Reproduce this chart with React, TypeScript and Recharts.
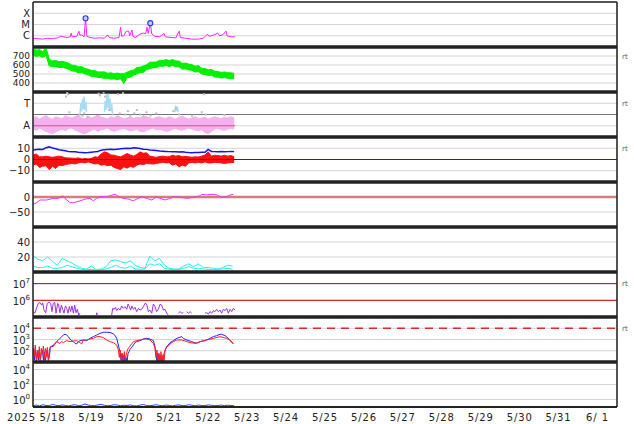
import React from 'react';
import { ComposedChart, Line, Area, XAxis, YAxis, CartesianGrid, ReferenceLine } from 'recharts';

const FONT = '"DejaVu Sans", sans-serif';
const W = 634;
const PH = 45;
const PAD = 2;
const TOP0 = 2;

const X_DOMAIN: [number, number] = [0, 360];
const DAY_TICKS = [0, 24, 48, 72, 96, 120, 144, 168, 192, 216, 240, 264, 288, 312, 336, 360];
const NOON_TICKS = [12, 36, 60, 84, 108, 132, 156, 180, 204, 228, 252, 276, 300, 324, 348];
const DAY_LABELS = ['5/18', '5/19', '5/20', '5/21', '5/22', '5/23', '5/24', '5/25', '5/26', '5/27', '5/28', '5/29', '5/30', '5/31', '6/ 1'];
const YEAR = '2025';
const RT = 'rt';

type Pt = [number, number | null];

// Panel 1: X-ray flux
const XRAY: Pt[] = [
  [0, 6e-7], [3, 5.5e-7], [6, 5e-7], [9, 6e-7], [12, 5.5e-7], [15, 6.5e-7], [17, 9e-7], [19, 8e-7], [21, 7e-7], [23, 8e-7],
  [23.5, 1.7e-6], [24.2, 8e-7], [27, 9e-7], [28.3, 2.5e-6], [28.9, 1.1e-6], [30, 1.2e-6], [31.5, 8e-7], [32.4, 3.6e-5], [33.2, 9e-7], [35, 7e-7],
  [38, 6e-7], [41, 6.5e-7], [44, 6e-7], [46, 1.2e-6], [47, 7e-7], [50, 6e-7], [53, 7e-7], [54, 5.6e-6], [54.6, 9e-7], [56, 1e-6],
  [57.5, 2.5e-6], [59, 2.6e-6], [59.6, 1e-6], [61, 3.2e-6], [61.6, 9e-7], [63, 7e-7], [66, 1.4e-6], [68, 1.7e-6], [69.5, 1.5e-6], [70.3, 5.6e-6],
  [71, 1.6e-6], [72.3, 1.3e-5], [73.2, 1.5e-6], [75, 9e-7], [78, 8e-7], [80.8, 1.6e-6], [81.5, 8e-7], [85, 7e-7], [88, 6.5e-7], [90.2, 2.6e-6],
  [90.8, 7e-7], [94, 6e-7], [98, 5e-7], [102, 5e-7], [105, 6e-7], [107.5, 1.4e-6], [108.5, 9e-7], [111, 1.1e-6], [113.9, 1.7e-6], [115, 1e-6],
  [117, 1.2e-6], [119, 2.6e-6], [119.6, 1e-6], [122, 8e-7], [124.5, 8e-7],
];
const FLARES: Pt[] = [[32.4, 3.6e-5], [72.3, 1.3e-5]];

// Panel 2: solar wind speed band (2 h step)
const SPEED_STEP = 2;
const SPEED_HIGH = [780, 765, 772, 748, 795, 665, 645, 650, 638, 641, 632, 620, 598, 595, 580, 583, 561, 554, 540, 540, 523, 523, 524, 509, 513, 505, 510, 503, 504, 520, 536, 544, 573, 575, 590, 603, 631, 632, 632, 653, 650, 660, 648, 662, 645, 644, 618, 621, 610, 603, 587, 593, 565, 560, 548, 551, 530, 527, 518, 523, 515, 513, 508];
const SPEED_LOW = [710, 695, 702, 684, 705, 590, 583, 584, 572, 575, 565, 552, 534, 530, 512, 517, 500, 490, 470, 472, 461, 460, 450, 454, 443, 445, 436, 447, 395, 460, 464, 487, 501, 515, 517, 547, 560, 570, 569, 587, 586, 595, 582, 594, 580, 580, 554, 557, 547, 540, 522, 527, 500, 495, 484, 487, 466, 465, 455, 460, 452, 450, 446];

// Panel 3: T / A panel
const PINK_STEP = 2;
const PINK_HIGH = [1.7, 1.8, 1.6, 1.75, 1.9, 1.7, 1.6, 1.8, 1.7, 1.65, 1.9, 1.75, 1.7, 1.8, 1.95, 1.7, 1.6, 1.85, 1.7, 1.8, 2.0, 1.75, 1.7, 1.6, 1.8, 1.7, 1.9, 1.75, 1.6, 1.7, 1.8, 1.65, 1.75, 1.7, 1.9, 1.8, 1.7, 1.6, 1.75, 1.8, 1.7, 1.65, 1.8, 1.7, 1.6, 1.75, 1.85, 1.7, 1.6, 1.7, 1.8, 1.65, 1.7, 1.75, 1.6, 1.7, 1.8, 1.7, 1.65, 1.75, 1.7, 1.8, 1.7];
const PINK_LOW = [0.7, 0.6, 0.8, 0.65, 0.5, 0.4, 0.3, 0.45, 0.6, 0.7, 0.55, 0.75, 0.8, 0.6, 0.5, 0.35, 0.3, 0.45, 0.6, 0.7, 0.5, 0.65, 0.7, 0.8, 0.6, 0.5, 0.6, 0.7, 0.75, 0.65, 0.55, 0.6, 0.7, 0.5, 0.45, 0.6, 0.7, 0.8, 0.65, 0.7, 0.6, 0.5, 0.55, 0.7, 0.75, 0.65, 0.6, 0.7, 0.8, 0.7, 0.6, 0.55, 0.65, 0.4, 0.3, 0.5, 0.7, 0.75, 0.65, 0.6, 0.7, 0.75, 0.7];
const A_LEVEL: Pt[] = [[0, 1], [124.5, 1]];
const LIGHT_BLUE: Pt[] = [
  [29.0, 2.1], [29.5, 3.0], [30.0, 2.3], [30.5, 3.4], [31.0, 2.5], [31.5, 3.6], [32.0, 2.4], [32.5, 3.1], [33.0, 2.2], [33.5, null],
  [44.0, 2.2], [44.5, 3.2], [45.0, 2.4], [45.5, 3.8], [46.0, 2.6], [46.5, 3.9], [47.0, 2.5], [47.5, 3.4], [48.0, 2.3], [48.5, 2.9], [49.0, 2.1], [49.5, null],
  [87.5, 2.2], [88.0, 2.8], [88.5, 2.3], [89.0, 2.7], [89.5, 2.2],
];
const GRAY_DOTS: Pt[] = [
  [20.3, 3.6], [21.0, 3.9], [21.6, 3.8], [22.4, 2.2], [28.5, 2.0], [30.5, 1.9], [31.5, 2.1], [33.5, 1.8], [40.5, 3.85], [41.3, 3.7],
  [43.5, 3.95], [44.4, 3.6], [47.0, 2.4], [49.0, 2.0], [52.4, 3.8], [53.5, 2.1], [55.5, 3.9], [57.0, 2.0], [58.5, 2.3], [60.0, 1.9],
  [62.5, 2.1], [64.0, 2.4], [66.0, 2.0], [70.0, 2.2], [72.5, 1.9], [76.0, 2.1], [86.5, 2.3], [88.0, 2.5], [90.0, 2.0], [98.0, 1.9],
  [104.0, 2.2], [105.4, 3.8], [106.5, 2.0], [118.0, 1.95],
];

// Panel 4: Bt (blue) and Bz (red band)
const MAG_STEP = 2;
const BT = [8.3, 8.8, 9.2, 9.0, 10.5, 11.2, 10.2, 9.6, 8.6, 8.2, 7.8, 7.0, 6.8, 6.9, 6.5, 6.3, 6.1, 6.2, 6.5, 6.8, 7.2, 8.3, 8.6, 8.8, 9.0, 8.8, 9.2, 9.6, 9.8, 10.0, 9.8, 10.4, 10.3, 9.8, 9.2, 9.0, 8.4, 8.3, 8.0, 7.6, 7.4, 7.2, 7.0, 6.8, 6.9, 6.6, 6.8, 6.4, 6.2, 6.1, 6.3, 6.2, 6.5, 6.4, 9.0, 7.2, 7.0, 6.8, 7.1, 6.9, 7.0, 7.2, 7.0];
const BZ_HIGH = [3.8, 5, 2.4, 2.4, 3, 2.4, 2, 2.4, 3, 2.4, 1.5, 1.4, 1.2, 1, 1.4, 0.5, 0.8, 0.5, 1, 2.4, 2, 5, 6.8, 6, 4, 3.8, 3, 2.4, 3.8, 5.3, 4, 3, 4.5, 6.8, 5.5, 6, 3, 2.4, 2, 2.6, 3, 2.4, 2.5, 3.8, 3, 3.5, 2.4, 2.8, 2.4, 2, 2.4, 2.2, 3, 4, 6.8, 3, 3.8, 3.5, 3, 3.8, 3, 3.5, 2.5];
const BZ_LOW = [-5, -4, -7, -6, -5.5, -9, -6, -8, -5, -5.5, -4.5, -4, -3.5, -4, -3, -2.5, -3, -2.1, -3, -4, -3.6, -5, -4.5, -5.5, -5, -7, -8, -9, -6.5, -7.7, -6, -7, -5, -4, -4.5, -3.6, -3.8, -4, -3.5, -3, -2.5, -3, -2.8, -5, -4, -6.5, -5, -6, -3, -2.5, -3, -2.5, -3, -2.1, -3, -3, -2.5, -2.8, -3, -3.6, -3, -2.8, -2.5];

// Panel 5: magenta index
const DST: Pt[] = [
  [0.2, -24], [2.3, -19], [4.3, -10], [8.4, -10], [12.5, -4.5], [15.6, -4.5], [18.3, 4], [19.7, -4.5], [22.8, -19], [24.9, -19],
  [29, -13], [32.1, -7], [35.1, -4.5], [37.2, -13], [39.2, -4.5], [41.3, 1], [45.4, 1], [50.6, 9], [52.6, 2], [55.7, -4.5],
  [58.8, -7], [61.8, -13], [63.9, -7], [67, 1], [70.1, -4.5], [73.2, -10], [76.3, 1], [78.3, -4.5], [81.4, -10], [84.5, -4.5],
  [86.5, 1], [90.6, -1], [94.8, -4.5], [97.8, -2], [100.9, 1], [103, 4], [104, 9], [107.1, 7], [110.2, 9], [113.3, 7],
  [116.3, -1], [119.4, 1], [121.5, 7], [123.5, 9],
];

// Panel 6: two cyan traces (3 h step)
const CYAN_STEP = 3;
const CYAN_UPPER = [22, 17, 15, 20, 14, 9, 18, 15, 12, 8, 5, 4, 8, 3, 4, 7, 15, 16, 14, 12, 15, 9, 6, 5, 21, 15, 18, 9, 5, 4, 4, 8, 11, 7, 11, 6, 6, 5, 4, 6, 9, 8];
const CYAN_LOWER = [8, 6, 6, 8, 5, 5, 6, 9, 7, 5, 3.6, 3, 3.5, 2.5, 3, 4, 6, 9, 6, 5, 8, 4, 3.6, 4, 11, 9, 11, 5, 3.6, 3, 3.5, 5, 7, 5, 5, 4, 3.6, 3, 3.5, 4, 5, 3.6];

// Panel 7: electron flux (purple)
const PURPLE: Pt[] = [
  [0.2, 2.1e5], [1.2, 1.7e5], [2.3, 3.8e5], [3.3, 6.6e5], [4.3, 7.3e5], [5.35, 5.2e5], [6.0, 7.0e5], [6.8, 2.6e5], [7.8, 1.8e5], [8.8, 6.6e5],
  [9.9, 7.6e5], [10.9, 6.6e5], [11.7, 2.1e5], [12.5, 6.6e5], [13.4, 7.3e5], [14.2, 1.7e5], [15.2, 6.6e5], [15.8, 5.2e5], [16.6, 1.8e5], [17.5, 5.2e5],
  [18.3, 2.9e5], [19.1, 1.7e5], [20.0, 4.6e5], [20.8, 3.3e5], [21.6, 1.7e5], [22.4, 4.2e5], [23.2, 2.1e5], [24.0, 4.6e5], [24.9, 1.7e5], [25.7, 5.2e5],
  [26.5, 1.8e5], [27.3, 2.9e5], [28.2, 1.3e5], [29.0, 1.7e5], [29.5, null],
  [39.0, 1.3e5], [39.3, 1.8e5], [39.6, 1.3e5], [40, null],
  [48.5, 1.3e5], [49.1, 3.3e5], [50.0, 2.9e5], [50.8, 3.8e5], [51.6, 2.4e5], [52.6, 3.3e5], [53.6, 2.6e5], [54.7, 4.6e5], [55.7, 3.3e5], [56.7, 4.2e5],
  [57.8, 2.9e5], [58.6, 6.0e5], [59.4, 4.2e5], [60.2, 2.6e5], [61.0, 4.6e5], [61.9, 2.9e5], [62.9, 3.8e5], [63.9, 2.1e5], [65.0, 3.3e5], [66.0, 2.6e5],
  [67.0, 2.9e5], [68.0, 4.2e5], [69.1, 6.6e5], [70.1, 5.8e5], [71.1, 2.1e5], [72.1, 2.6e5], [73.2, 1.7e5], [74.2, 6.0e5], [75.2, 4.2e5], [76.2, 2.1e5],
  [77.3, 2.9e5], [78.3, 5.8e5], [79.3, 5.2e5], [80.4, 2.6e5], [81.4, 2.9e5], [82.4, 1.7e5], [83.4, 1.3e5], [84, null],
  [89.6, 1.7e5], [90.6, 2.1e5], [91.7, 1.7e5], [92.7, 1.8e5], [93.5, null],
  [94.7, 2.1e5], [95.8, 1.7e5], [96.8, 2.1e5], [97.8, 1.7e5], [100, null],
  [106.0, 1.7e5], [107.1, 1.8e5], [108.1, 1.5e5], [109.1, 2.1e5], [110.2, 1.7e5], [111.2, 2.4e5], [112.2, 2.1e5], [113.2, 2.9e5], [114.3, 2.1e5], [115.3, 2.6e5],
  [116.3, 1.7e5], [117.3, 2.9e5], [118.4, 2.4e5], [119.4, 3.3e5], [120.4, 1.7e5], [121.5, 2.9e5], [122.5, 2.1e5], [123.5, 3.3e5], [124.5, 2.6e5],
];

// Panel 8: blue and red flux
const P8_BLUE: Pt[] = [
  [0.2, 116], [0.8, 15], [1.4, 163], [2.1, 11], [2.7, 83], [3.3, 15], [3.9, 116], [4.5, 11], [5.1, 59], [5.8, 116],
  [6.4, 13], [7.0, 83], [7.6, 11], [8.2, 45], [8.8, 116], [9.5, 15], [10.1, 30], [10.7, 200], [11.5, 230], [12.5, 250],
  [13.6, 455], [14.6, 650], [15.6, 900], [16.6, 1260], [17.7, 1800], [18.7, 2500], [19.7, 2900], [20.8, 2500], [21.8, 1800], [22.8, 1100],
  [23.8, 790], [24.9, 650], [25.9, 455], [26.9, 400], [28.0, 650], [29.0, 790], [31.0, 900], [33.1, 790], [35.1, 1260], [37.2, 1800],
  [39.3, 2500], [41.3, 3500], [43.4, 4400], [45.4, 4400], [47.5, 4200], [49.5, 3200], [50.6, 2300], [51.6, 1260], [52.6, 325], [53.6, 83],
  [54.3, 15], [54.9, 59], [55.5, 11], [56.1, 45], [56.7, 11], [57.3, 25], [58.0, 11], [58.6, 59], [59.2, 83], [59.8, 130],
  [60.8, 200], [61.9, 325], [62.9, 525], [63.9, 650], [66.0, 790], [68.0, 1100], [70.1, 1260], [72.1, 1100], [74.2, 790], [75.2, 230],
  [75.8, 59], [76.4, 11], [77.1, 59], [77.7, 11], [78.3, 40], [78.9, 11], [79.5, 25], [80.1, 11], [80.8, 59], [81.6, 116],
  [82.4, 230], [83.4, 325], [84.5, 525], [86.5, 790], [88.6, 1260], [90.6, 1600], [91.7, 1800], [92.7, 1260], [94.7, 900], [97.8, 650],
  [100.9, 455], [103.0, 650], [106.0, 790], [109.1, 1260], [111.2, 1800], [113.2, 2200], [115.3, 2900], [116.3, 2900], [118.4, 2200], [120.4, 1260],
  [121.5, 790], [123.5, 400],
];
const P8_RED: Pt[] = [
  [0.2, 163], [0.8, 30], [1.4, 325], [2.1, 15], [2.7, 116], [3.3, 25], [3.9, 230], [4.5, 11], [5.1, 163], [5.8, 59],
  [6.4, 260], [7.0, 15], [7.6, 163], [8.2, 30], [8.8, 200], [9.5, 11], [10.1, 116], [10.7, 230], [11.5, 260], [12.5, 325],
  [13.6, 400], [14.6, 650], [15.6, 525], [16.6, 455], [17.7, 650], [18.7, 525], [19.7, 650], [20.8, 790], [22.8, 650], [24.9, 740],
  [26.9, 790], [29.0, 525], [30.0, 400], [31.0, 900], [33.1, 900], [35.1, 1100], [37.2, 1260], [39.3, 1800], [41.3, 1800], [43.4, 1450],
  [45.4, 900], [47.5, 650], [49.5, 525], [51.6, 325], [52.6, 116], [53.2, 25], [53.8, 116], [54.5, 11], [55.1, 59], [55.7, 11],
  [56.3, 83], [56.9, 15], [57.5, 45], [58.2, 116], [58.8, 163], [59.8, 260], [60.8, 400], [61.9, 650], [63.9, 790], [66.0, 900],
  [68.0, 1100], [70.1, 1100], [72.1, 900], [74.2, 455], [75.2, 163], [75.8, 25], [76.4, 116], [77.1, 11], [77.7, 59], [78.3, 11],
  [78.9, 83], [79.5, 11], [80.1, 45], [80.8, 11], [81.4, 116], [82.4, 230], [83.4, 260], [84.5, 400], [86.5, 650], [88.6, 900],
  [91.7, 900], [93.7, 740], [96.8, 525], [99.9, 455], [103.0, 650], [107.1, 900], [111.2, 1260], [115.3, 1800], [119.4, 1260], [121.5, 900],
  [123.5, 455],
];

// Panel 9: low flux trace (2 h step)
const P9_STEP = 2;
const P9_BLUE = [0.15, 0.18, 0.14, 0.2, 0.16, 0.15, 0.22, 0.17, 0.15, 0.19, 0.16, 0.14, 0.18, 0.2, 0.15, 0.17, 0.25, 0.18, 0.16, 0.15, 0.19, 0.22, 0.17, 0.15, 0.16, 0.2, 0.18, 0.15, 0.17, 0.16, 0.19, 0.15, 0.14, 0.18, 0.21, 0.16, 0.15, 0.17, 0.2, 0.16, 0.15, 0.18, 0.16, 0.14, 0.17, 0.19, 0.15, 0.16, 0.2, 0.17, 0.15, 0.18, 0.16, 0.15, 0.19, 0.17, 0.15, 0.16, 0.18, 0.15, 0.17, 0.16, 0.15];

const toRows = (pts: Pt[]) => pts.map(([t, v]) => ({ t, v }));
const stepRows = (step: number, vals: number[]) => vals.map((v, i) => ({ t: i * step, v }));
const bandRows = (step: number, lo: number[], hi: number[]) => lo.map((l, i) => ({ t: i * step, r: [l, hi[i]] }));

const LETTERS: Record<number, string> = { [-6]: 'C', [-5]: 'M', [-4]: 'X' };
const TA: Record<number, string> = { 1: 'A', 3: 'T' };

const TextTick = (fmt: (v: number) => string, size = 10) => (props: any) => {
  const { x, y, payload } = props;
  return (
    <text x={x} y={y} dy="0.36em" textAnchor="end" fontSize={size} fontFamily={FONT} fill="#222">
      {fmt(payload.value)}
    </text>
  );
};
const numFmt = (v: number) => (v < 0 ? '\u2212' + Math.abs(v) : String(v));
const PowTick = (props: any) => {
  const { x, y, payload } = props;
  const e = Math.round(Math.log10(payload.value));
  return (
    <text x={x} y={y} textAnchor="end" fontSize={10} fontFamily={FONT} fill="#222">
      <tspan dy="0.45em">10</tspan>
      <tspan dy={-5} fontSize={7}>{e}</tspan>
    </text>
  );
};
const RtTick = (props: any) => (
  <text x={props.x} y={props.y} dy="0.36em" fontSize={7} fontFamily={FONT} fill="#555">{RT}</text>
);
const DayTick = (props: any) => {
  const { x, y, payload } = props;
  const i = NOON_TICKS.indexOf(payload.value);
  return (
    <text x={x} y={y} dy={14} textAnchor="middle" fontSize={10} fontFamily={FONT} fill="#222" letterSpacing={0.9}>
      {DAY_LABELS[i]}
    </text>
  );
};

interface PanelProps {
  index: number;
  domain: [number, number];
  ticks: number[];
  scale?: 'linear' | 'log';
  tick: any;
  rt?: number[];
  first?: boolean;
  last?: boolean;
  children?: React.ReactNode;
}

function Panel({ index, domain, ticks, scale = 'linear', tick, rt = [], first, last, children }: PanelProps) {
  const top = TOP0 + index * PH - PAD;
  const height = PAD + PH + (last ? 22 : PAD);
  return (
    <div style={{ position: 'absolute', left: 0, top }}>
      <ComposedChart width={W} height={height} margin={{ top: PAD, right: 0, bottom: last ? 0 : PAD, left: 0 }}>
        <CartesianGrid stroke="#d4d4d4" strokeWidth={1} />
        <XAxis type="number" dataKey="t" domain={X_DOMAIN} ticks={DAY_TICKS} allowDataOverflow tick={false} tickLine={false} height={0} axisLine={false} />
        {last && (
          <XAxis xAxisId="lab" type="number" dataKey="t" domain={X_DOMAIN} ticks={NOON_TICKS} interval={0} allowDataOverflow tick={<DayTick />} tickLine={false} tickSize={0} tickMargin={0} axisLine={false} height={22} />
        )}
        <YAxis type="number" domain={domain} scale={scale} ticks={ticks} interval={0} allowDataOverflow width={33} tickLine={false} tickSize={0} tickMargin={3} tick={tick} axisLine={false} />
        <YAxis yAxisId="r" orientation="right" type="number" domain={domain} scale={scale} ticks={rt} interval={0} allowDataOverflow width={17} tickLine={false} tickSize={0} tickMargin={5} tick={rt.length ? <RtTick /> : false} axisLine={false} />
        {children}
        <ReferenceLine x={X_DOMAIN[0]} stroke="#222" strokeWidth={1.5} ifOverflow="visible" />
        <ReferenceLine x={X_DOMAIN[1]} stroke="#222" strokeWidth={1.5} ifOverflow="visible" />
        <ReferenceLine y={domain[1]} stroke="#222" strokeWidth={first ? 1.5 : 3} ifOverflow="visible" />
        <ReferenceLine y={domain[0]} stroke="#222" strokeWidth={last ? 2 : 3} ifOverflow="visible" />
      </ComposedChart>
    </div>
  );
}

const grayDot = (p: any) =>
  p.cy == null || p.cx == null ? <g key={p.index} /> : <rect key={p.index} x={p.cx - 1} y={p.cy - 1} width={2} height={2} fill="#bdbdbd" />;

export default function App() {
  return (
    <div style={{ position: 'absolute', left: 0, top: 0, width: W, height: 424, background: '#fff', overflow: 'hidden' }}>
      <Panel index={0} first domain={[1e-7, 1e-3]} scale="log" ticks={[1e-6, 1e-5, 1e-4]} tick={TextTick((v) => LETTERS[Math.round(Math.log10(v))])}>
        <Line data={toRows(XRAY)} dataKey="v" type="linear" stroke="#ff22ff" strokeWidth={1} dot={false} activeDot={false} isAnimationActive={false} />
        <Line data={toRows(FLARES)} dataKey="v" type="linear" stroke="none" dot={{ r: 2.5, stroke: '#2a3cff', strokeWidth: 1.2, fill: '#c4d0ff' }} activeDot={false} isAnimationActive={false} />
      </Panel>

      <Panel index={1} domain={[300, 800]} ticks={[400, 500, 600, 700]} tick={TextTick(numFmt, 9)} rt={[700]}>
        <Area data={bandRows(SPEED_STEP, SPEED_LOW, SPEED_HIGH)} dataKey="r" type="linear" stroke="#00f000" strokeWidth={1} fill="#00f000" fillOpacity={1} dot={false} activeDot={false} isAnimationActive={false} />
      </Panel>

      <Panel index={2} domain={[0, 4]} ticks={[1, 3]} tick={TextTick((v) => TA[v] ?? '')} rt={[3]}>
        <ReferenceLine y={2} stroke="#777" strokeWidth={1} />
        <Area data={bandRows(PINK_STEP, PINK_LOW, PINK_HIGH)} dataKey="r" type="linear" stroke="#f5b0f0" strokeWidth={1} fill="#f5b0f0" fillOpacity={1} dot={false} activeDot={false} isAnimationActive={false} />
        <Line data={toRows(GRAY_DOTS)} dataKey="v" stroke="none" dot={grayDot} activeDot={false} isAnimationActive={false} />
        <Line data={toRows(LIGHT_BLUE)} dataKey="v" type="linear" stroke="#a6dcf6" strokeWidth={1.5} dot={false} activeDot={false} isAnimationActive={false} />
        <Line data={toRows(A_LEVEL)} dataKey="v" type="linear" stroke="#ff4a4a" strokeWidth={1} dot={false} activeDot={false} isAnimationActive={false} />
      </Panel>

      <Panel index={3} domain={[-20, 20]} ticks={[-10, 0, 10]} tick={TextTick(numFmt)} rt={[10]}>
        <ReferenceLine y={0} stroke="#a00000" strokeWidth={1} />
        <Area data={bandRows(MAG_STEP, BZ_LOW, BZ_HIGH)} dataKey="r" type="linear" stroke="#ff1010" strokeWidth={1} fill="#ff1010" fillOpacity={1} dot={false} activeDot={false} isAnimationActive={false} />
        <Line data={stepRows(MAG_STEP, BT)} dataKey="v" type="linear" stroke="#1414ff" strokeWidth={1.5} dot={false} activeDot={false} isAnimationActive={false} />
      </Panel>

      <Panel index={4} domain={[-100, 50]} ticks={[-50, 0]} tick={TextTick(numFmt)}>
        <ReferenceLine y={0} stroke="#d67c7c" strokeWidth={2.5} />
        <Line data={toRows(DST)} dataKey="v" type="linear" stroke="#ee33ee" strokeWidth={1} dot={false} activeDot={false} isAnimationActive={false} />
      </Panel>

      <Panel index={5} domain={[0, 60]} ticks={[20, 40]} tick={TextTick(numFmt)}>
        <Line data={stepRows(CYAN_STEP, CYAN_UPPER)} dataKey="v" type="linear" stroke="#22f2f2" strokeWidth={1} dot={false} activeDot={false} isAnimationActive={false} />
        <Line data={stepRows(CYAN_STEP, CYAN_LOWER)} dataKey="v" type="linear" stroke="#22f2f2" strokeWidth={1} dot={false} activeDot={false} isAnimationActive={false} />
      </Panel>

      <Panel index={6} domain={[1e5, 5e7]} scale="log" ticks={[1e6, 1e7]} tick={<PowTick />} rt={[1e7]}>
        <ReferenceLine y={1e7} stroke="#cc0000" strokeWidth={1} />
        <ReferenceLine y={1e6} stroke="#cc0000" strokeWidth={1} />
        <Line data={toRows(PURPLE)} dataKey="v" type="linear" stroke="#a030e0" strokeWidth={1} dot={false} activeDot={false} isAnimationActive={false} />
      </Panel>

      <Panel index={7} domain={[10, 1e5]} scale="log" ticks={[1e2, 1e3, 1e4]} tick={<PowTick />} rt={[1e4]}>
        <ReferenceLine y={1e4} stroke="#dd2a2a" strokeWidth={1.5} strokeDasharray="8 6" />
        <Line data={toRows(P8_BLUE)} dataKey="v" type="linear" stroke="#2222ff" strokeWidth={1} dot={false} activeDot={false} isAnimationActive={false} />
        <Line data={toRows(P8_RED)} dataKey="v" type="linear" stroke="#ff2020" strokeWidth={1} dot={false} activeDot={false} isAnimationActive={false} />
      </Panel>

      <Panel index={8} last domain={[0.1, 1e5]} scale="log" ticks={[1, 1e2, 1e4]} tick={<PowTick />}>
        <Line data={stepRows(P9_STEP, P9_BLUE)} dataKey="v" type="linear" stroke="#2244ee" strokeWidth={1} dot={false} activeDot={false} isAnimationActive={false} />
      </Panel>

      <svg width={40} height={424} style={{ position: 'absolute', left: 0, top: 0 }}>
        <text x={7} y={421} fontSize={10} fontFamily={FONT} fill="#222" letterSpacing={0.9}>{YEAR}</text>
      </svg>
    </div>
  );
}
